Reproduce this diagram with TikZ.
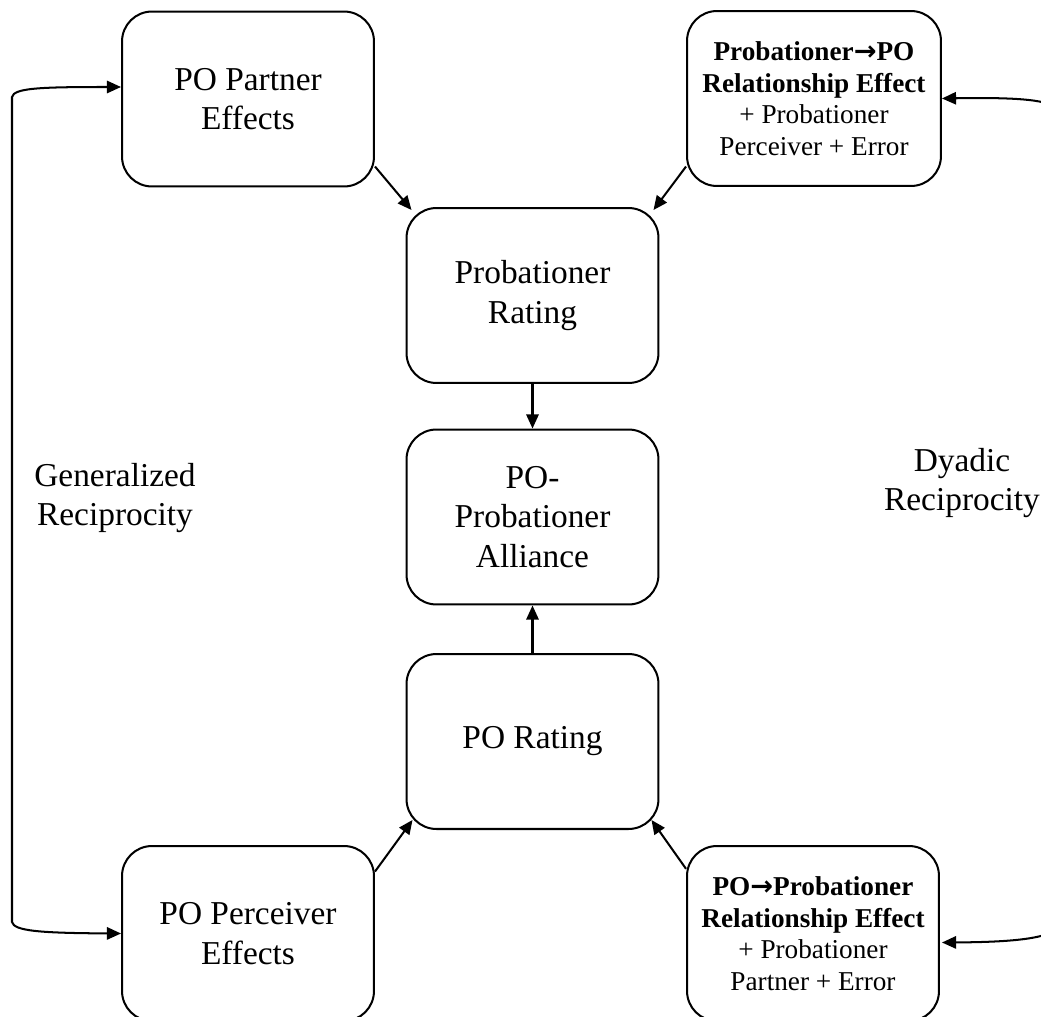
\documentclass[tikz,border=0pt]{standalone}
\usepackage{fontspec}
\setmainfont{Liberation Serif}
\newfontfamily\arrowfont{DejaVu Sans}
\newcommand{\rarr}{{\arrowfont\bfseries →}}
\usetikzlibrary{arrows.meta,calc}
\tikzset{
  box/.style={draw, line width=1.15pt, rounded corners=0.6cm, minimum width=5.04cm,
    minimum height=3.5cm, align=center, inner sep=0pt,
    font=\fontsize{19}{22.5}\selectfont},
  sbox/.style={box, font=\fontsize{15.5}{18}\selectfont},
  arr/.style={line width=1.15pt, -{Triangle[length=8pt,width=7pt]}},
  darr/.style={line width=1.15pt, {Triangle[length=8pt,width=7pt]}-{Triangle[length=8pt,width=7pt]}},
  lbl/.style={align=center, font=\fontsize{19}{22.5}\selectfont}
}
\begin{document}
\begin{tikzpicture}[x=0.02cm,y=-0.02cm]
\useasboundingbox (0,0) rectangle (1041,1017);
\clip (0,0) rectangle (1041,1017);

\node[box] (partner) at (248,99) {PO Partner\\Effects};
\node[sbox, minimum width=5.08cm] (ptpo) at (814,98.5)
  {\textbf{Probationer\rarr PO}\\\textbf{Relationship Effect}\\+ Probationer\\Perceiver + Error};
\node[box] (rating) at (532.5,295.5) {Probationer\\Rating};
\node[box] (alliance) at (532.5,517) {PO-\\Probationer\\Alliance};
\node[box] (porating) at (532.5,741.5) {PO Rating};
\node[box] (perceiver) at (248,933.5) {PO Perceiver\\Effects};
\node[sbox] (popt) at (813,933.5)
  {\textbf{PO\rarr Probationer}\\\textbf{Relationship Effect}\\+ Probationer\\Partner + Error};

\node[lbl] (gen) at (115,498) {Generalized\\Reciprocity};
\node[lbl] (dyad) at (962,483) {Dyadic\\Reciprocity};

\draw[arr] (partner.-28.7) -- ($(rating.north west)+(6,3)$);
\draw[arr] (ptpo.208.7) -- ($(rating.north east)+(-6,3)$);
\draw[arr] (rating.south) -- (alliance.north);
\draw[arr] (porating.north) -- (alliance.south);
\draw[arr] (perceiver.26.9) -- ($(porating.south west)+(7,-10)$);
\draw[arr] (popt.153.3) -- ($(porating.south east)+(-8,-10)$);

\draw[darr] ($(partner.west)+(0,-12)$) .. controls (40,87) and (14,88) .. (12,97)
  -- (12,922) .. controls (14,931) and (40,933) .. (perceiver.west);

\coordinate (rtop) at (1060,114);
\coordinate (rbot) at (1060,922);
\draw[arr] (rtop) .. controls (1058,101) and (1030,97) .. (ptpo.east);
\draw[arr] (rbot) .. controls (1058,936) and (1030,942) .. ($(popt.east)+(2,9)$);
\end{tikzpicture}
\end{document}
